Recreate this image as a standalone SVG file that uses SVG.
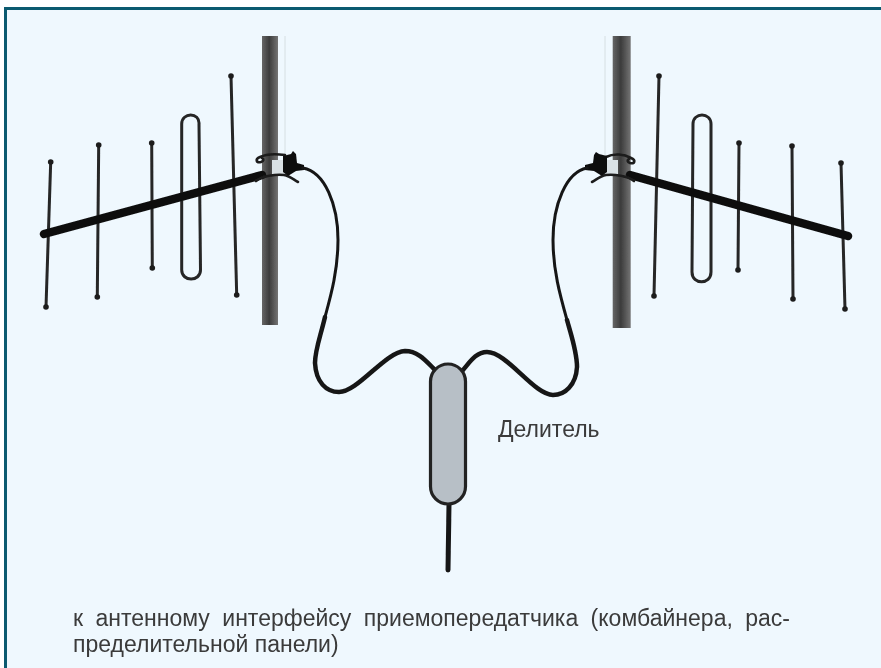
<svg xmlns="http://www.w3.org/2000/svg" width="881" height="668" viewBox="0 0 881 668">
<style>
.t{font-family:"Liberation Sans",Arial,sans-serif;font-size:23px;fill:#3a3a3a}
.el{fill:none;stroke:#262626;stroke-width:3;stroke-linecap:round}
.tip{fill:#1c1c1c}
.boom{fill:none;stroke:#111;stroke-width:8.500;stroke-linecap:round}
.cab{fill:none;stroke:#161616;stroke-linecap:round;stroke-linejoin:round}
.clamp{fill:none;stroke:#1c1c1c;stroke-width:2.600;stroke-linecap:round}
</style>
<defs>
<filter id="b" x="-20%" y="-20%" width="140%" height="140%"><feGaussianBlur stdDeviation="0.7"/></filter>
<filter id="s" x="-5%" y="-20%" width="110%" height="140%"><feGaussianBlur stdDeviation="0.45"/></filter>
<linearGradient id="p" x1="0" x2="1" y1="0" y2="0"><stop offset="0" stop-color="#666"/><stop offset=".45" stop-color="#3c3c3c"/><stop offset="1" stop-color="#747474"/></linearGradient>
</defs>
<rect width="881" height="668" fill="#eff8fe"/>
<rect x="0" y="0" width="881" height="7" fill="#ffffff"/>
<rect x="0" y="0" width="4" height="668" fill="#ffffff"/>
<path d="M5.500 668V8.500H881" fill="none" stroke="#0b5a70" stroke-width="3"/>
<g id="antenna-left" filter="url(#b)">
<path d="M285 36V158" stroke="#d6dee3" stroke-width="1" fill="none"/>
<rect x="262" y="36" width="16" height="289" fill="url(#p)"/>
<path class="el" d="M50.700 162L46 307M98.700 145L97.300 297M151.700 143L152.300 268M231 76L236.700 295"/>
<path class="el" d="M181.700 270V124C181.700 112 200 112 199 124L200.500 270C200.500 282 181.700 282 181.700 270Z"/>
<g class="tip"><circle cx="50.700" cy="162" r="2.800"/><circle cx="46" cy="307" r="2.800"/><circle cx="98.700" cy="145" r="2.800"/><circle cx="97.300" cy="297" r="2.800"/><circle cx="151.700" cy="143" r="2.800"/><circle cx="152.300" cy="268" r="2.800"/><circle cx="231" cy="76" r="2.800"/><circle cx="236.700" cy="295" r="2.800"/></g>
<rect x="272" y="160" width="12" height="14" fill="#d9e1e5"/>
<path class="boom" d="M44 234L262 175"/>
<path class="clamp" d="M260 157C268 153 278 154 285 155M260 157C255 159 256 163 261 162C264 161 264 159 262 158"/>
<path class="clamp" stroke-width="3" d="M256 181C262 176 276 174 284 175C290 176 294 180 298 182"/>
<path d="M283 156L291 154L293 151L296 154L297 163L304 165V170L296 171L288 176L283 172Z" fill="#111"/>
</g>
<g id="antenna-right" filter="url(#b)">
<path d="M605 36V158" stroke="#d6dee3" stroke-width="1" fill="none"/>
<rect x="612.700" y="36" width="18" height="292" fill="url(#p)"/>
<path class="el" d="M659 76L654 296M739 143L738 270M792 146L793 299M841 163L845 309"/>
<path class="el" d="M692 272L693 124C693 112 711 112 711 124V272C711 285 692 285 692 272Z"/>
<g class="tip"><circle cx="659" cy="76" r="2.800"/><circle cx="654" cy="296" r="2.800"/><circle cx="739" cy="143" r="2.800"/><circle cx="738" cy="270" r="2.800"/><circle cx="792" cy="146" r="2.800"/><circle cx="793" cy="299" r="2.800"/><circle cx="841" cy="163" r="2.800"/><circle cx="845" cy="309" r="2.800"/></g>
<rect x="606" y="160" width="12" height="14" fill="#d9e1e5"/>
<path class="boom" d="M630 175L848 236"/>
<path class="clamp" d="M606 157C614 153 624 154 631 158M631 158C636 160 635 164 630 163C627 162 627 160 629 159"/>
<path class="clamp" stroke-width="3" d="M634 181C628 176 614 174 606 175C600 176 596 180 592 182"/>
<path d="M607 156L599 154L596 152L594 155L593 163L585 165V170L594 171L602 176L607 172Z" fill="#111"/>
</g>
<g id="connectors" filter="url(#b)">
<path class="cab" stroke-width="3" d="M303 168C325 172 338 205 338 240C338 270 331 295 325 317"/>
<path class="cab" stroke-width="4.500" d="M325 317C320 338 315 350 315 363C316 382 326 392 339 392C358 392 385 352 405 351C418 351 426 361 435 370"/>
<path class="cab" stroke-width="3" d="M587 168C566 172 553 205 553 240C553 270 560 295 567 320"/>
<path class="cab" stroke-width="4.500" d="M567 320C572 338 577 352 577 367C576 385 565 395 553 395C534 395 507 352 487 352C476 352 470 362 463 370"/>
<path class="cab" stroke-width="5" stroke-linecap="butt" d="M449 504L448 570"/>
</g>
<g id="splitter" filter="url(#b)">
<rect x="430.500" y="364" width="35" height="140" rx="17.500" fill="#b7bfc6" stroke="#222" stroke-width="3.200"/>
</g>
<g id="labels" filter="url(#s)">
<text class="t" x="498" y="437">Делитель</text>
<text class="t" x="73" y="625.500" word-spacing="6" textLength="717">к антенному интерфейсу приемопередатчика (комбайнера, рас-</text>
<text class="t" x="73" y="651.500">пределительной панели)</text>
</g>
</svg>
